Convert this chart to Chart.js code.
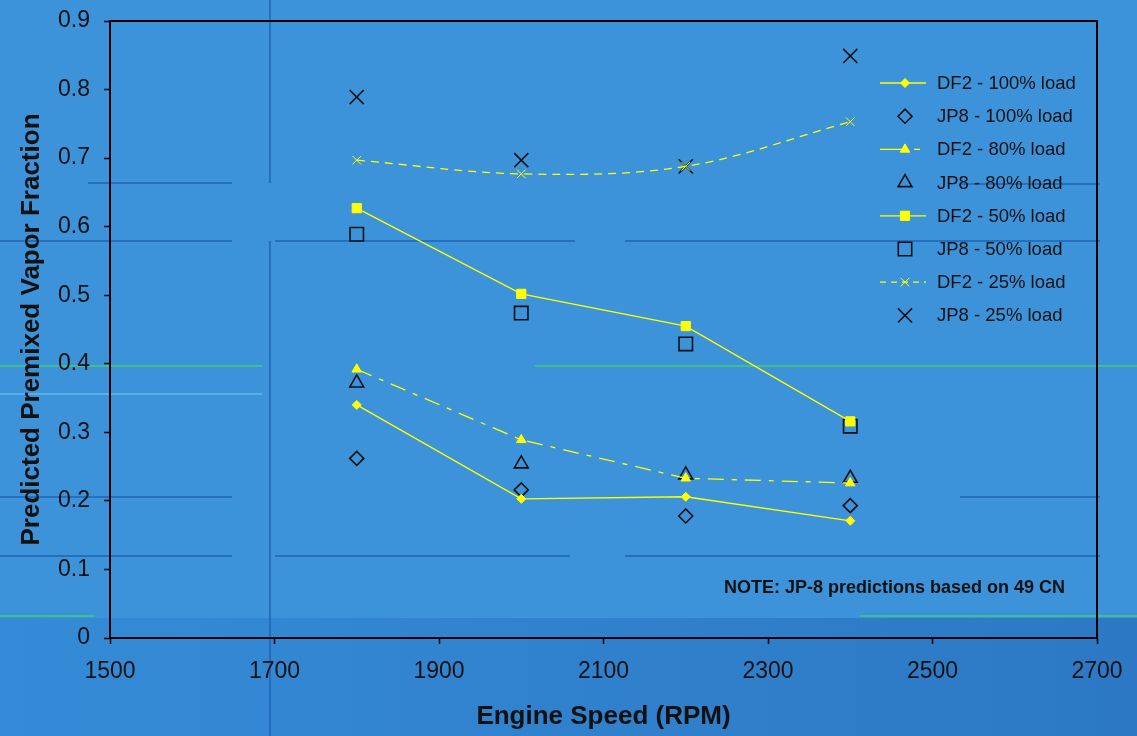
<!DOCTYPE html>
<html lang="en">
<head>
<meta charset="UTF-8">
<script src="https://cdn.jsdelivr.net/npm/chart.js"></script>
<title>Predicted Premixed Vapor Fraction</title>
<style>
  html, body { margin: 0; padding: 0; background: #3c93da; }
  #wrap { width: 1137px; height: 736px; }
</style>
</head>
<body>
<div id="wrap"><canvas id="chart" width="1137" height="736"></canvas></div>
<script>
// engine speeds (RPM)
var speeds = [1800, 2000, 2200, 2400];

var df2_100 = [0.340, 0.203, 0.206, 0.171];
var jp8_100 = [0.262, 0.216, 0.178, 0.193];
var df2_80  = [0.392, 0.289, 0.233, 0.226];
var jp8_80  = [0.372, 0.254, 0.238, 0.233];
var df2_50  = [0.627, 0.502, 0.455, 0.316];
var jp8_50  = [0.589, 0.474, 0.429, 0.309];
var df2_25  = [0.697, 0.677, 0.688, 0.753];
var jp8_25  = [0.789, 0.697, 0.688, 0.849];

var seriesNames = ['DF2 - 100% load', 'JP8 - 100% load', 'DF2 - 80% load', 'JP8 - 80% load',
                   'DF2 - 50% load', 'JP8 - 50% load', 'DF2 - 25% load', 'JP8 - 25% load'];
var xTicks = [1500, 1700, 1900, 2100, 2300, 2500, 2700];
var yTicks = [0, 0.1, 0.2, 0.3, 0.4, 0.5, 0.6, 0.7, 0.8, 0.9];

const YEL = '#ffff00';
const BLK = '#111111';
const FONT = '"Liberation Sans", Arial, sans-serif';

function pts(arr) {
  return speeds.map(function (s, i) { return { x: s, y: arr[i] }; });
}

function df2(label, arr, style, radius, dash, tension) {
  return {
    label: label, data: pts(arr),
    borderColor: YEL, backgroundColor: YEL, borderWidth: 1.3,
    borderDash: dash, tension: tension || 0,
    pointStyle: style, pointRadius: radius, pointBorderColor: YEL,
    pointBackgroundColor: YEL, pointBorderWidth: 1, showLine: true
  };
}
function jp8(label, arr, style, radius) {
  return {
    label: label, data: pts(arr),
    borderColor: BLK, backgroundColor: 'rgba(0,0,0,0)', borderWidth: 1.5,
    showLine: false, pointStyle: style, pointRadius: radius,
    pointBorderColor: BLK, pointBackgroundColor: 'rgba(0,0,0,0)', pointBorderWidth: 1.6
  };
}

var datasets = [
  df2(seriesNames[0], df2_100, 'rectRot', 4.5, []),
  jp8(seriesNames[1], jp8_100, 'rectRot', 7),
  df2(seriesNames[2], df2_80, 'triangle', 5.5, [16, 8, 5, 8]),
  jp8(seriesNames[3], jp8_80, 'triangle', 8),
  df2(seriesNames[4], df2_50, 'rect', 6.5, []),
  jp8(seriesNames[5], jp8_50, 'rect', 9.5),
  df2(seriesNames[6], df2_25, 'crossRot', 6, [8, 6], 0.35),
  jp8(seriesNames[7], jp8_25, 'crossRot', 10)
];

// slide background with its decorative rules
const slideBackground = {
  id: 'slideBackground',
  beforeDraw(chart) {
    const c = chart.ctx, W = chart.width, H = chart.height;
    c.save();
    c.fillStyle = '#3c93da';
    c.fillRect(0, 0, W, H);
    var g = c.createLinearGradient(0, 0, W, 0);
    g.addColorStop(0, '#358bd7');
    g.addColorStop(1, '#2c78c4');
    c.fillStyle = g;
    c.fillRect(0, 618, W, H - 618);
    function hl(y, x1, x2, col, w) {
      c.strokeStyle = col; c.lineWidth = w;
      c.beginPath(); c.moveTo(x1, y); c.lineTo(x2, y); c.stroke();
    }
    var dark = '#1d63b5';
    hl(183, 88, 232, dark, 1.5); hl(184, 960, 1100, dark, 1.5);
    hl(241, 0, 232, dark, 1.5); hl(241, 275, 575, dark, 1.5); hl(241, 625, 1100, dark, 1.5);
    hl(366, 0, 262, '#3fbf8a', 2); hl(366, 535, W, '#3fbf8a', 2);
    hl(394, 0, 262, '#6fd0f0', 1);
    hl(497, 0, 232, dark, 1.5); hl(497, 960, 1100, dark, 1.5);
    hl(556, 0, 232, dark, 1.5); hl(556, 275, 570, dark, 1.5); hl(556, 625, 1100, dark, 1.5);
    hl(616, 0, 95, '#3fbf8a', 2); hl(616, 860, W, '#3fbf8a', 2);
    c.strokeStyle = dark; c.lineWidth = 1.5;
    c.beginPath(); c.moveTo(270, 0); c.lineTo(270, 183); c.stroke();
    c.beginPath(); c.moveTo(270, 241); c.lineTo(270, H); c.stroke();
    c.restore();
  }
};

// frame, legend inside plot, note
const overlay = {
  id: 'overlay',
  afterDraw(chart) {
    const c = chart.ctx, a = chart.chartArea;
    c.save();
    c.strokeStyle = '#000'; c.lineWidth = 2;
    c.strokeRect(a.left, a.top, a.right - a.left, a.bottom - a.top);

    var lx = a.left + 770, ly = a.top + 62, step = 33.2;
    chart.data.datasets.forEach(function (ds, i) {
      var y = ly + i * step;
      if (ds.showLine) {
        c.save();
        c.strokeStyle = ds.borderColor; c.lineWidth = ds.borderWidth;
        var dash = [];
        if (ds.borderDash.length === 4) dash = [26, 8, 6, 8];
        if (ds.borderDash.length === 2) dash = [6, 5];
        c.setLineDash(dash);
        c.beginPath(); c.moveTo(lx, y); c.lineTo(lx + 46, y); c.stroke();
        c.restore();
      }
      c.save();
      c.fillStyle = ds.pointBackgroundColor;
      c.strokeStyle = ds.pointBorderColor;
      c.lineWidth = ds.pointBorderWidth;
      Chart.helpers.drawPoint(c, { pointStyle: ds.pointStyle, radius: ds.pointRadius,
        borderWidth: ds.pointBorderWidth, rotation: 0 }, lx + 25, y);
      c.restore();
      c.fillStyle = '#111';
      c.font = '18.5px ' + FONT;
      c.textAlign = 'left'; c.textBaseline = 'middle';
      c.fillText(ds.label, lx + 57, y + 1);
    });

    c.font = 'bold 18px ' + FONT;
    c.fillStyle = '#111';
    c.textAlign = 'right'; c.textBaseline = 'middle';
    c.fillText('NOTE: JP-8 predictions based on 49 CN', a.right - 32, a.bottom - 50);
    c.restore();
  }
};

new Chart(document.getElementById('chart').getContext('2d'), {
  type: 'scatter',
  data: { datasets: datasets },
  options: {
    responsive: false,
    animation: false,
    layout: { padding: { top: 21, right: 40, left: 12, bottom: 0 } },
    plugins: {
      legend: { display: false },
      tooltip: { enabled: false }
    },
    scales: {
      x: {
        type: 'linear', min: 1500, max: 2700,
        afterBuildTicks: function (s) { s.ticks = xTicks.map(function (v) { return { value: v }; }); },
        afterFit: function (s) { s.height = 98; s.paddingLeft = 0; s.paddingRight = 0; },
        grid: { drawOnChartArea: false, color: '#000', tickLength: 6, tickWidth: 1.5 },
        border: { color: '#000', width: 2 },
        ticks: { color: '#111', font: { family: FONT, size: 23 }, padding: 14, maxRotation: 0,
                 callback: function (v) { return String(v); } },
        title: { display: true, text: 'Engine Speed (RPM)', color: '#111',
                 font: { family: FONT, size: 26, weight: 'bold' }, padding: { top: 4 } }
      },
      y: {
        type: 'linear', min: 0, max: 0.9,
        afterBuildTicks: function (s) { s.ticks = yTicks.map(function (v) { return { value: v }; }); },
        afterFit: function (s) { s.width = 98; s.paddingTop = 0; s.paddingBottom = 0; },
        grid: { drawOnChartArea: false, color: '#000', tickLength: 6, tickWidth: 1.5 },
        border: { color: '#000', width: 2 },
        ticks: { color: '#111', font: { family: FONT, size: 23 }, padding: 14,
                 callback: function (v) { return v === 0 ? '0' : v.toFixed(1); } },
        title: { display: true, text: 'Predicted Premixed Vapor Fraction', color: '#111',
                 font: { family: FONT, size: 26, weight: 'bold' }, padding: { bottom: 4 } }
      }
    }
  },
  plugins: [slideBackground, overlay]
});
</script>
</body>
</html>
